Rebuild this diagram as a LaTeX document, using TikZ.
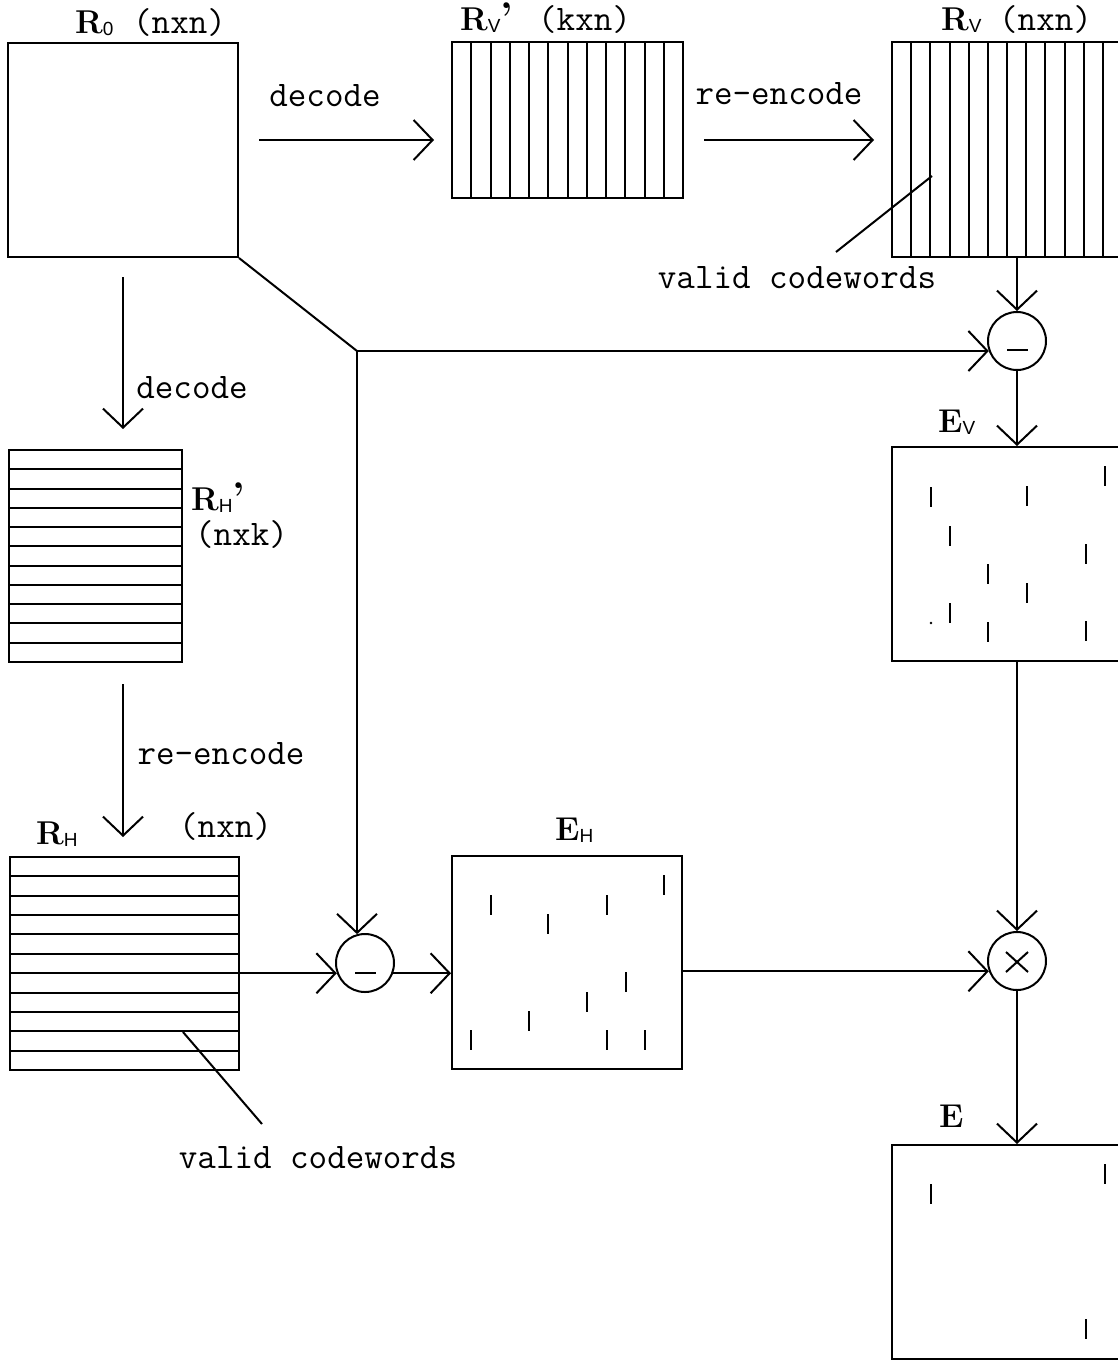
\documentclass[tikz,border=0pt]{standalone}
\usepackage{fontspec}
\newfontfamily\subf{Liberation Sans}
\usetikzlibrary{arrows.meta,calc}
\newcommand{\bigL}[1]{{\rmfamily\fontsize{33}{36}\selectfont\bfseries #1}}
\newcommand{\lsub}[1]{\raisebox{-2pt}{\subf\fontsize{19}{20}\selectfont #1}}
\newcommand{\bprime}{{\rmfamily\fontsize{40}{40}\selectfont\bfseries ’}}
\tikzset{
  lw/.style={line width=2pt},
  arr/.style={lw, -{Straight Barb[length=19pt,width=40pt]}},
  box/.style={draw, lw, rectangle, inner sep=0pt},
  opcirc/.style={draw, lw, circle, inner sep=0pt, minimum size=58pt},
  txt/.style={font=\ttfamily\fontsize{36}{40}\selectfont, inner sep=0pt},
  lbl/.style={inner sep=0pt},
  errmark/.style={line width=2.4pt},
}
\begin{document}
\begin{tikzpicture}[x=1pt,y=-1pt]
\useasboundingbox (0,0) rectangle (1118,1361);
\fill[white] (0,0) rectangle (1118,1361);

% boxes
\node[box, minimum width=230pt, minimum height=214pt] (R0) at (123,150) {};
\node[box, minimum width=231pt, minimum height=156pt] (RVp) at (567.5,120) {};
\node[box, minimum width=230pt, minimum height=215pt] (RV) at (1007,149.5) {};
\node[box, minimum width=173pt, minimum height=212pt] (RHp) at (95.5,556) {};
\node[box, minimum width=229pt, minimum height=213pt] (RH) at (124.5,963.5) {};
\node[box, minimum width=230pt, minimum height=213pt] (EH) at (567,962.5) {};
\node[box, minimum width=230pt, minimum height=214pt] (EV) at (1007,554) {};
\node[box, minimum width=230pt, minimum height=214pt] (E) at (1007,1252) {};

% dividers
\foreach \k in {1,...,11} \draw[lw] ({round(452+\k*19.25)},42) -- ({round(452+\k*19.25)},198);
\foreach \k in {1,...,11} \draw[lw] ({round(892+\k*19.17)},42) -- ({round(892+\k*19.17)},257);
\foreach \k in {1,...,10} \draw[lw] (9,{round(450+\k*19.27)}) -- (182,{round(450+\k*19.27)});
\foreach \k in {1,...,10} \draw[lw] (10,{round(857+\k*19.36)}) -- (239,{round(857+\k*19.36)});

% operator circles
\node[opcirc] (M1) at (1017,341) {};
\node[opcirc] (M2) at (365,963) {};
\node[opcirc] (X) at (1017,961) {};
\draw[lw] ([shift={(-10,9)}]M1.center) -- ([shift={(11,9)}]M1.center);
\draw[lw] ([shift={(-10,10)}]M2.center) -- ([shift={(11,10)}]M2.center);
\draw[lw] ([shift={(-11,-9)}]X.center) -- ([shift={(11,11)}]X.center);
\draw[lw] ([shift={(-11,11)}]X.center) -- ([shift={(11,-9)}]X.center);

% labels
\node[lbl, anchor=base west] (lR0) at (75,33) {\bigL{R}\lsub{0}};
\node[txt, anchor=base west] (nR0) at (133,33) {(nxn)};
\node[lbl, anchor=base west] (lRVp) at (460,30) {\bigL{R}\lsub{V}\bprime};
\node[txt, anchor=base west] (nRVp) at (538,30) {(kxn)};
\node[lbl, anchor=base west] (lRV) at (941,30) {\bigL{R}\lsub{V}};
\node[txt, anchor=base west] (nRV) at (999,30) {(nxn)};
\node[lbl, anchor=base west] (lRHp) at (191,510) {\bigL{R}\lsub{H}\bprime};
\node[txt, anchor=base west] (nRHp) at (195,545) {(nxk)};
\node[lbl, anchor=base west] (lRH) at (36,844) {\bigL{R}\lsub{H}};
\node[txt, anchor=base west] (nRH) at (179,837) {(nxn)};
\node[lbl, anchor=base west] (lEH) at (555,840) {\bigL{E}\lsub{H}};
\node[lbl, anchor=base west] (lEV) at (938,432) {\bigL{E}\lsub{V}};
\node[lbl, anchor=base west] (lE) at (939,1127) {\bigL{E}};

\node[txt] (t1) at (325,96) {decode};
\node[txt] (t2) at (779,94) {re-encode};
\node[txt] (t3) at (192,388) {decode};
\node[txt] (t4) at (221,754) {re-encode};
\node[txt] (vc1) at (797,278) {valid codewords};
\node[txt] (vc2) at (318,1158) {valid codewords};

% leader lines
\coordinate (lc1a) at (932,176);
\coordinate (lc1b) at (836,252);
\coordinate (lc2a) at (183,1032);
\coordinate (lc2b) at (262,1124);
\draw[lw] (lc1a) -- (lc1b);
\draw[lw] (lc2a) -- (lc2b);

% arrows top row
\coordinate (ay) at (0,140);
\draw[arr] ($(R0.east |- ay)+(20,0)$) -- ($(RVp.west |- ay)+(-17,0)$);
\draw[arr] ($(RVp.east |- ay)+(20,0)$) -- ($(RV.west |- ay)+(-17,0)$);

% left column arrows
\draw[arr] ($(R0.south)+(0,19)$) -- ($(R0.south |- RHp.north)+(0,-20)$);
\draw[arr] ($(R0.south |- RHp.south)+(0,21)$) -- ($(R0.south |- RH.north)+(0,-19)$);

% junction path
\coordinate (J) at (357,351);
\draw[lw] (R0.south east) -- (J);
\draw[arr] (J) -- (J -| M1.200);
\draw[arr] (J) -- (J |- M2.106);

% right column
\draw[arr] (RV.south -| M1) -- (M1.north);
\draw[arr] (M1.south) -- (EV.north -| M1);
\draw[arr] (EV.south -| X) -- (X.north);
\draw[arr] (X.south) -- (E.north -| X);

% bottom row
\draw[arr] (RH.east |- M2.200) -- (M2.200);
\draw[arr] (M2.340) -- (EH.west |- M2.340);
\draw[arr] (EH.east |- X.200) -- (X.200);

% error marks in E_H
\foreach \x/\y in {491/895,548/914,607/895,664/875,626/972,587/992,529/1011,471/1030,607/1030,645/1030}
  \draw[errmark] (\x,\y) -- (\x,\y+20);
% error marks in E_V
\foreach \x/\y in {931/487,1027/486,1105/466,950/526,1086/544,988/564,1027/583,950/603,988/622,1086/621}
  \draw[errmark] (\x,\y) -- (\x,\y+20);
\fill (931,623) circle (1.3pt);
% error marks in E
\foreach \x/\y in {931/1184,1105/1164,1086/1319}
  \draw[errmark] (\x,\y) -- (\x,\y+20);
\end{tikzpicture}
\end{document}
